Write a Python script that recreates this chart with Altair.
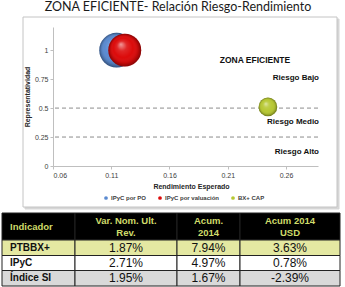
import altair as alt
import pandas as pd

# ---- bubble series: expected return (x), representativeness (y), bubble weight
series = ["IPyC por PO", "IPyC por valuación", "BX+ CAP"]
rendimiento = [0.1146, 0.1216, 0.2445]
representatividad = [1.0, 1.0, 0.51]
peso = [1.0, 0.9, 0.29]
series_colors = ["#5a8ad0", "#dc0a0a", "#b7c832"]

# ---- risk thresholds (dashed lines)
umbrales = [0.5, 0.25]

# ---- zone annotations
zona_titulo = ["ZONA EFICIENTE"]
zona_titulo_x = [0.2334]
zona_titulo_y = [0.917]
riesgos = ["Riesgo Bajo", "Riesgo Medio", "Riesgo Alto"]
riesgos_y = [0.76, 0.383, 0.125]

x_ticks = [0.06, 0.11, 0.16, 0.21, 0.26]
y_ticks = [0, 0.25, 0.5, 0.75, 1]

# ---- summary table
encabezados = ["Indicador", "Var. Nom. Ult.\nRev.", "Acum.\n2014", "Acum 2014\nUSD"]
indicadores = ["PTBBX+", "IPyC", "Índice SI"]
var_nom = [1.87, 2.71, 1.95]
acum_2014 = [7.94, 4.97, 1.67]
acum_usd = [3.63, 0.78, -2.39]

# ---- layout (pixels)
W, H = 265, 139
PAD = {"left": 53, "top": 27, "right": 27, "bottom": 121}
FONT = "Liberation Sans"
X_MAX = 0.2875

col_edges = [0, 73, 175, 238, 338]
row_edges = [0, 27, 42.5, 57.5, 73]
row_fills = ["#000000", "#e4e8a2", "#ffffff", "#d9d9d9"]

# ---------------------------------------------------------------- frame
one = alt.Data(values=[{}])
frame_shadow = alt.Chart(one).mark_rect(
    fill="#d6d6d6", stroke="#d6d6d6", strokeWidth=1
).encode(x=alt.value(-28), x2=alt.value(286), y=alt.value(-8), y2=alt.value(182))
frame = alt.Chart(one).mark_rect(
    fill="white", stroke="#c4c4c4", strokeWidth=1
).encode(x=alt.value(-30), x2=alt.value(284), y=alt.value(-10), y2=alt.value(180))
title = alt.Chart(alt.Data(values=[{"t": "ZONA EFICIENTE- Relación Riesgo-Rendimiento"}])).mark_text(
    font="Lato", fontSize=12.5, color="#1a1a1a", align="center", baseline="alphabetic"
).encode(text="t:N", x=alt.value(125), y=alt.value(-16))

# ---------------------------------------------------------------- scatter
xscale = alt.Scale(domain=[0.06, X_MAX], nice=False, zero=False)
yscale = alt.Scale(domain=[0, 1.2], nice=False, zero=False)
x_axis = alt.Axis(
    orient="bottom", values=x_ticks, format=".2f", grid=False, zindex=1,
    title="Rendimiento Esperado", titleFont=FONT, titleFontSize=7, titleFontWeight="bold",
    titleColor="#262626", titlePadding=4, titleX=138,
    labelFont=FONT, labelFontSize=7, labelColor="#404040", labelPadding=2,
    tickSize=3, tickColor="#bfbfbf", domainColor="#bfbfbf",
)
y_axis = alt.Axis(
    orient="left", values=y_ticks, format="~g", grid=False, zindex=1,
    title="Representatividad", titleFont=FONT, titleFontSize=7, titleFontWeight="bold",
    titleColor="#262626", titlePadding=4,
    labelFont=FONT, labelFontSize=7, labelColor="#404040", labelPadding=2,
    tickSize=3, tickColor="#bfbfbf", domainColor="#bfbfbf",
)
X = alt.X("rend:Q", scale=xscale, axis=x_axis)
Y = alt.Y("rep:Q", scale=yscale, axis=y_axis)
size_scale = alt.Scale(domain=[0, 1], range=[0, 1200])
color_scale = alt.Scale(domain=series, range=series_colors)

pts = pd.DataFrame({"serie": series, "rend": rendimiento, "rep": representatividad, "peso": peso})

SHADE = {
    "gradient": "radial",
    "x1": 0.38, "y1": 0.32, "r1": 0,
    "x2": 0.5, "y2": 0.5, "r2": 0.5,
    "stops": [
        {"offset": 0, "color": "rgba(255,255,255,0.6)"},
        {"offset": 0.3, "color": "rgba(255,255,255,0.12)"},
        {"offset": 0.6, "color": "rgba(255,255,255,0)"},
        {"offset": 0.85, "color": "rgba(0,0,0,0.12)"},
        {"offset": 1, "color": "rgba(0,0,0,0.4)"},
    ],
}

legend = alt.Legend(
    title=None, orient="none", legendX=50, legendY=168, direction="horizontal",
    symbolType="circle", symbolSize=14, symbolStrokeWidth=0, symbolOpacity=1,
    labelFont=FONT, labelFontSize=6, labelFontWeight="bold", labelColor="#404040",
    labelOffset=2, columnPadding=10, zindex=1,
)

rules = alt.Chart(pd.DataFrame({"rep": umbrales})).mark_rule(
    strokeDash=[4, 3], color="#8c8c8c", strokeWidth=1
).encode(y=Y)

bubble_layers = []
for name in series:
    src = alt.Chart(pts).transform_filter(alt.datum.serie == name)
    base = src.mark_circle(opacity=1).encode(
        x=X, y=Y,
        size=alt.Size("peso:Q", scale=size_scale, legend=None),
        color=alt.Color("serie:N", scale=color_scale, legend=legend),
    )
    shade = src.mark_circle(fill=SHADE, fillOpacity=1, opacity=1).encode(
        x=X, y=Y, size=alt.Size("peso:Q", scale=size_scale, legend=None)
    )
    bubble_layers += [base, shade]

zona_df = pd.DataFrame({"txt": zona_titulo, "rend": zona_titulo_x, "rep": zona_titulo_y})
zona = alt.Chart(zona_df).mark_text(
    font=FONT, fontSize=8.5, fontWeight="bold", color="#111111", align="center", baseline="middle"
).encode(x=X, y=Y, text="txt:N")

riesgo_df = pd.DataFrame({"txt": riesgos, "rend": [X_MAX] * len(riesgos), "rep": riesgos_y})
riesgo = alt.Chart(riesgo_df).mark_text(
    font=FONT, fontSize=8, fontWeight="bold", color="#111111", align="right", baseline="middle", dx=1
).encode(x=X, y=Y, text="txt:N")

scatter = alt.layer(rules, *bubble_layers, zona, riesgo)

# ---------------------------------------------------------------- table
tx_scale = alt.Scale(domain=[0, col_edges[-1]], range=[2 - PAD["left"], 340 - PAD["left"]], nice=False, zero=False)
ty_scale = alt.Scale(domain=[0, row_edges[-1]], range=[213 - PAD["top"], 213 - PAD["top"] + row_edges[-1]], nice=False, zero=False)

cells, head_txt, label_txt, value_txt = [], [], [], []
for c in range(4):
    cells.append({"x0": col_edges[c], "x1": col_edges[c + 1], "y0": row_edges[0], "y1": row_edges[1], "fill": row_fills[0]})
    cx = col_edges[0] + 8 if c == 0 else (col_edges[c] + col_edges[c + 1]) / 2
    head_txt.append({"tx": cx, "ty": (row_edges[0] + row_edges[1]) / 2, "t": encabezados[c], "al": "left" if c == 0 else "center"})

for r, name in enumerate(indicadores):
    y0, y1 = row_edges[r + 1], row_edges[r + 2]
    vals = [var_nom[r], acum_2014[r], acum_usd[r]]
    for c in range(4):
        cells.append({"x0": col_edges[c], "x1": col_edges[c + 1], "y0": y0, "y1": y1, "fill": row_fills[r + 1]})
    label_txt.append({"tx": col_edges[0] + 8, "ty": (y0 + y1) / 2, "t": name})
    for c, v in enumerate(vals, start=1):
        value_txt.append({"tx": (col_edges[c] + col_edges[c + 1]) / 2, "ty": (y0 + y1) / 2, "t": f"{v:.2f}%"})

TX = lambda f: alt.X(f, scale=tx_scale, axis=None)
TY = lambda f: alt.Y(f, scale=ty_scale, axis=None)

cell_layer = alt.Chart(pd.DataFrame(cells)).mark_rect(stroke="#222222", strokeWidth=1).encode(
    x=TX("x0:Q"), x2="x1:Q", y=TY("y0:Q"), y2="y1:Q",
    fill=alt.Fill("fill:N", scale=None),
)
head_df = pd.DataFrame(head_txt)
head_left = alt.Chart(head_df[head_df.al == "left"]).mark_text(
    font=FONT, fontSize=9.5, fontWeight="bold", color="#cfdb6a", align="left", baseline="middle"
).encode(x=TX("tx:Q"), y=TY("ty:Q"), text="t:N")
# two-line headers: shift up half a line so the block sits centred in the row
head_center = alt.Chart(head_df[head_df.al == "center"]).mark_text(
    font=FONT, fontSize=9.5, fontWeight="bold", color="#cfdb6a", align="center", baseline="middle",
    lineBreak="\n", lineHeight=12, dy=-6
).encode(x=TX("tx:Q"), y=TY("ty:Q"), text="t:N")
label_layer = alt.Chart(pd.DataFrame(label_txt)).mark_text(
    font=FONT, fontSize=10, fontWeight="bold", color="#111111", align="left", baseline="middle"
).encode(x=TX("tx:Q"), y=TY("ty:Q"), text="t:N")
value_layer = alt.Chart(pd.DataFrame(value_txt)).mark_text(
    font=FONT, fontSize=12, color="#111111", align="center", baseline="middle"
).encode(x=TX("tx:Q"), y=TY("ty:Q"), text="t:N")

table = alt.layer(cell_layer, head_left, head_center, label_layer, value_layer)

# ---------------------------------------------------------------- compose
chart = (
    alt.layer(frame_shadow, frame, title, scatter, table)
    .resolve_scale(x="independent", y="independent")
    .properties(width=W, height=H, padding=PAD, autosize=alt.AutoSizeParams(type="none"), background="white")
    .configure_view(strokeWidth=0)
)

chart.save("out.html", embed_options={"renderer": "svg", "actions": False})
